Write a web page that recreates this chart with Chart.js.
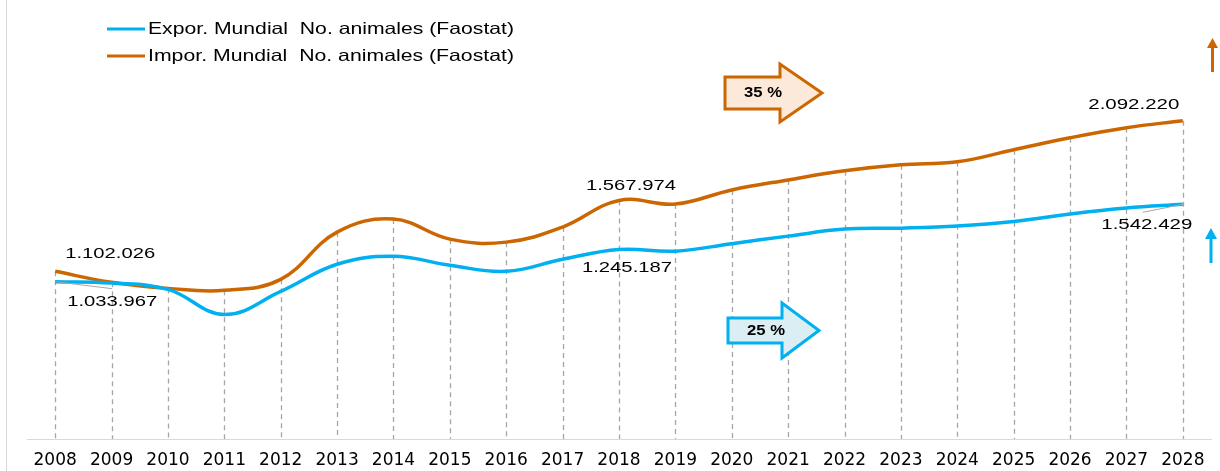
<!DOCTYPE html>
<html>
<head>
<meta charset="utf-8">
<script src="https://cdn.jsdelivr.net/npm/chart.js@4/dist/chart.umd.min.js"></script>
<style>
  html, body { margin: 0; padding: 0; background: #fff; }
  canvas { display: block; }
</style>
</head>
<body>
<canvas id="chart" width="1220" height="471"></canvas>
<script>
"use strict";

// Years on the x axis
const years = ["2008", "2009", "2010", "2011", "2012", "2013", "2014", "2015", "2016", "2017",
  "2018", "2019", "2020", "2021", "2022", "2023", "2024", "2025", "2026", "2027", "2028"];

const exportAnimals = [1033967, 1025000, 983500, 818500, 970000, 1148500, 1201000, 1142000, 1102000, 1181500,
  1245187, 1234500, 1284000, 1333500, 1379500, 1386000, 1399500, 1429000, 1478500, 1518000, 1542429];

// Import series (orange)
const importAnimals = [1102026, 1030000, 990000, 977000, 1049500, 1360000, 1445500, 1313500, 1294000, 1393000,
  1567974, 1544500, 1637000, 1703000, 1762500, 1802000, 1822000, 1901000, 1980000, 2046000, 2092220];

const seriesNames = [
  "Expor. Mundial  No. animales (Faostat)",
  "Impor. Mundial  No. animales (Faostat)",
];
const growthLabels = ["25 %", "35 %"];

const BLUE = "#00B0F0";
const ORANGE = "#CC6600";

const fmt = (v) => String(v).replace(/\B(?=(\d{3})+(?!\d))/g, ".");

// Draw text squeezed/stretched to a given width (the original looks horizontally stretched)
const wideText = (ctx, text, x, y, size, width, align, bold) => {
  ctx.save();
  ctx.font = `${bold ? "bold " : ""}${size}px "Liberation Sans", Arial, sans-serif`;
  const s = width / ctx.measureText(text).width;
  ctx.translate(x, y);
  ctx.scale(s, 1);
  ctx.textAlign = align;
  ctx.textBaseline = "middle";
  ctx.fillStyle = "#000";
  ctx.fillText(text, 0, 0);
  ctx.restore();
};

const blockArrow = (ctx, x0, sTop, sBot, hx, hTop, hBot, tip, tipY, fill, stroke) => {
  ctx.save();
  ctx.beginPath();
  ctx.moveTo(x0, sTop);
  ctx.lineTo(hx, sTop);
  ctx.lineTo(hx, hTop);
  ctx.lineTo(tip, tipY);
  ctx.lineTo(hx, hBot);
  ctx.lineTo(hx, sBot);
  ctx.lineTo(x0, sBot);
  ctx.closePath();
  ctx.fillStyle = fill;
  ctx.fill();
  ctx.lineWidth = 3;
  ctx.lineJoin = "miter";
  ctx.strokeStyle = stroke;
  ctx.stroke();
  ctx.restore();
};

const smallArrow = (ctx, x, tipY, baseY, endY, half, color) => {
  ctx.save();
  ctx.strokeStyle = color;
  ctx.lineWidth = 3;
  ctx.beginPath();
  ctx.moveTo(x, baseY - 1);
  ctx.lineTo(x, endY);
  ctx.stroke();
  ctx.fillStyle = color;
  ctx.beginPath();
  ctx.moveTo(x, tipY);
  ctx.lineTo(x - half, baseY);
  ctx.lineTo(x + half, baseY);
  ctx.closePath();
  ctx.fill();
  ctx.restore();
};

const overlay = {
  id: "overlay",
  beforeDatasetsDraw(chart) {
    // dashed drop lines from the import line down to the axis
    const { ctx, chartArea } = chart;
    const pts = chart.getDatasetMeta(1).data;
    ctx.save();
    ctx.strokeStyle = "#a6a6a6";
    ctx.lineWidth = 1.3;
    ctx.setLineDash([5, 4]);
    pts.forEach((p) => {
      const x = Math.round(p.x) + 0.5;
      ctx.beginPath();
      ctx.moveTo(x, p.y);
      ctx.lineTo(x, chartArea.bottom);
      ctx.stroke();
    });
    ctx.restore();
  },
  afterDatasetsDraw(chart) {
    const { ctx } = chart;
    const exp = chart.getDatasetMeta(0).data;
    const imp = chart.getDatasetMeta(1).data;
    const last = years.length - 1;

    // leader lines for the export labels
    ctx.save();
    ctx.strokeStyle = "#a6a6a6";
    ctx.lineWidth = 1;
    ctx.beginPath();
    ctx.moveTo(exp[0].x, exp[0].y);
    ctx.lineTo(exp[0].x + 57, exp[0].y + 7);
    ctx.moveTo(exp[last].x, exp[last].y);
    ctx.lineTo(exp[last].x - 40, exp[last].y + 8);
    ctx.stroke();
    ctx.restore();

    // value labels
    wideText(ctx, fmt(importAnimals[0]), imp[0].x + 55, imp[0].y - 17, 15, 90, "center");
    wideText(ctx, fmt(exportAnimals[0]), exp[0].x + 57, exp[0].y + 20, 15, 90, "center");
    wideText(ctx, fmt(importAnimals[10]), imp[10].x + 12, imp[10].y - 15, 15, 90, "center");
    wideText(ctx, fmt(exportAnimals[10]), exp[10].x + 8, exp[10].y + 18, 15, 90, "center");
    wideText(ctx, fmt(importAnimals[last]), imp[last].x - 49, imp[last].y - 16, 15, 91, "center");
    wideText(ctx, fmt(exportAnimals[last]), exp[last].x - 36, exp[last].y + 21, 15, 91, "center");

    // growth arrows
    blockArrow(ctx, 725, 77, 109, 780, 64, 122, 822, 93, "#FDE9D9", ORANGE);
    wideText(ctx, growthLabels[1], 763, 93, 14, 38, "center", true);
    blockArrow(ctx, 728, 318, 343, 782, 303, 358, 819, 330.5, "#DAEEF3", BLUE);
    wideText(ctx, growthLabels[0], 766, 331, 14, 38, "center", true);

    smallArrow(ctx, 1212.5, 38, 48, 72, 5.5, ORANGE);
    smallArrow(ctx, 1211, 228, 239, 263, 6, BLUE);

    // legend
    const colors = [BLUE, ORANGE];
    const rows = [29, 56];
    seriesNames.forEach((name, i) => {
      ctx.save();
      ctx.strokeStyle = colors[i];
      ctx.lineWidth = 3;
      ctx.beginPath();
      ctx.moveTo(107, rows[i]);
      ctx.lineTo(145, rows[i]);
      ctx.stroke();
      ctx.restore();
      wideText(ctx, name, 148, rows[i], 16.5, 366, "left");
    });

    // thin frame line on the left
    ctx.save();
    ctx.strokeStyle = "#d9d9d9";
    ctx.lineWidth = 1;
    ctx.beginPath();
    ctx.moveTo(6.5, 0);
    ctx.lineTo(6.5, chart.height);
    ctx.stroke();
    ctx.restore();
  },
};

const data = {
  labels: years,
  datasets: [
    {
      label: seriesNames[0],
      data: exportAnimals,
      borderColor: BLUE,
      backgroundColor: BLUE,
      borderWidth: 3.5,
      pointRadius: 0,
      tension: 0.4,
    },
    {
      label: seriesNames[1],
      data: importAnimals,
      borderColor: ORANGE,
      backgroundColor: ORANGE,
      borderWidth: 3.5,
      pointRadius: 0,
      tension: 0.4,
    },
  ],
};

const config = {
  type: "line",
  data: data,
  options: {
    responsive: false,
    devicePixelRatio: 1,
    animation: false,
    layout: { padding: { top: 13, left: 27, right: 9, bottom: 0 } },
    plugins: {
      legend: { display: false },
      tooltip: { enabled: false },
    },
    scales: {
      x: {
        offset: true,
        grid: { display: false, drawTicks: false },
        border: { display: true, color: "#d9d9d9", width: 1 },
        ticks: {
          color: "#000",
          font: { family: "'DejaVu Sans'", size: 17 },
          padding: 11,
          maxRotation: 0,
          autoSkip: false,
        },
        afterFit: (scale) => { scale.height = 32; },
      },
      y: {
        display: false,
        min: 0,
        max: 2800000,
      },
    },
  },
  plugins: [overlay],
};

const canvas = document.querySelector("#chart");
const chart = new Chart(canvas, config);
</script>
</body>
</html>
